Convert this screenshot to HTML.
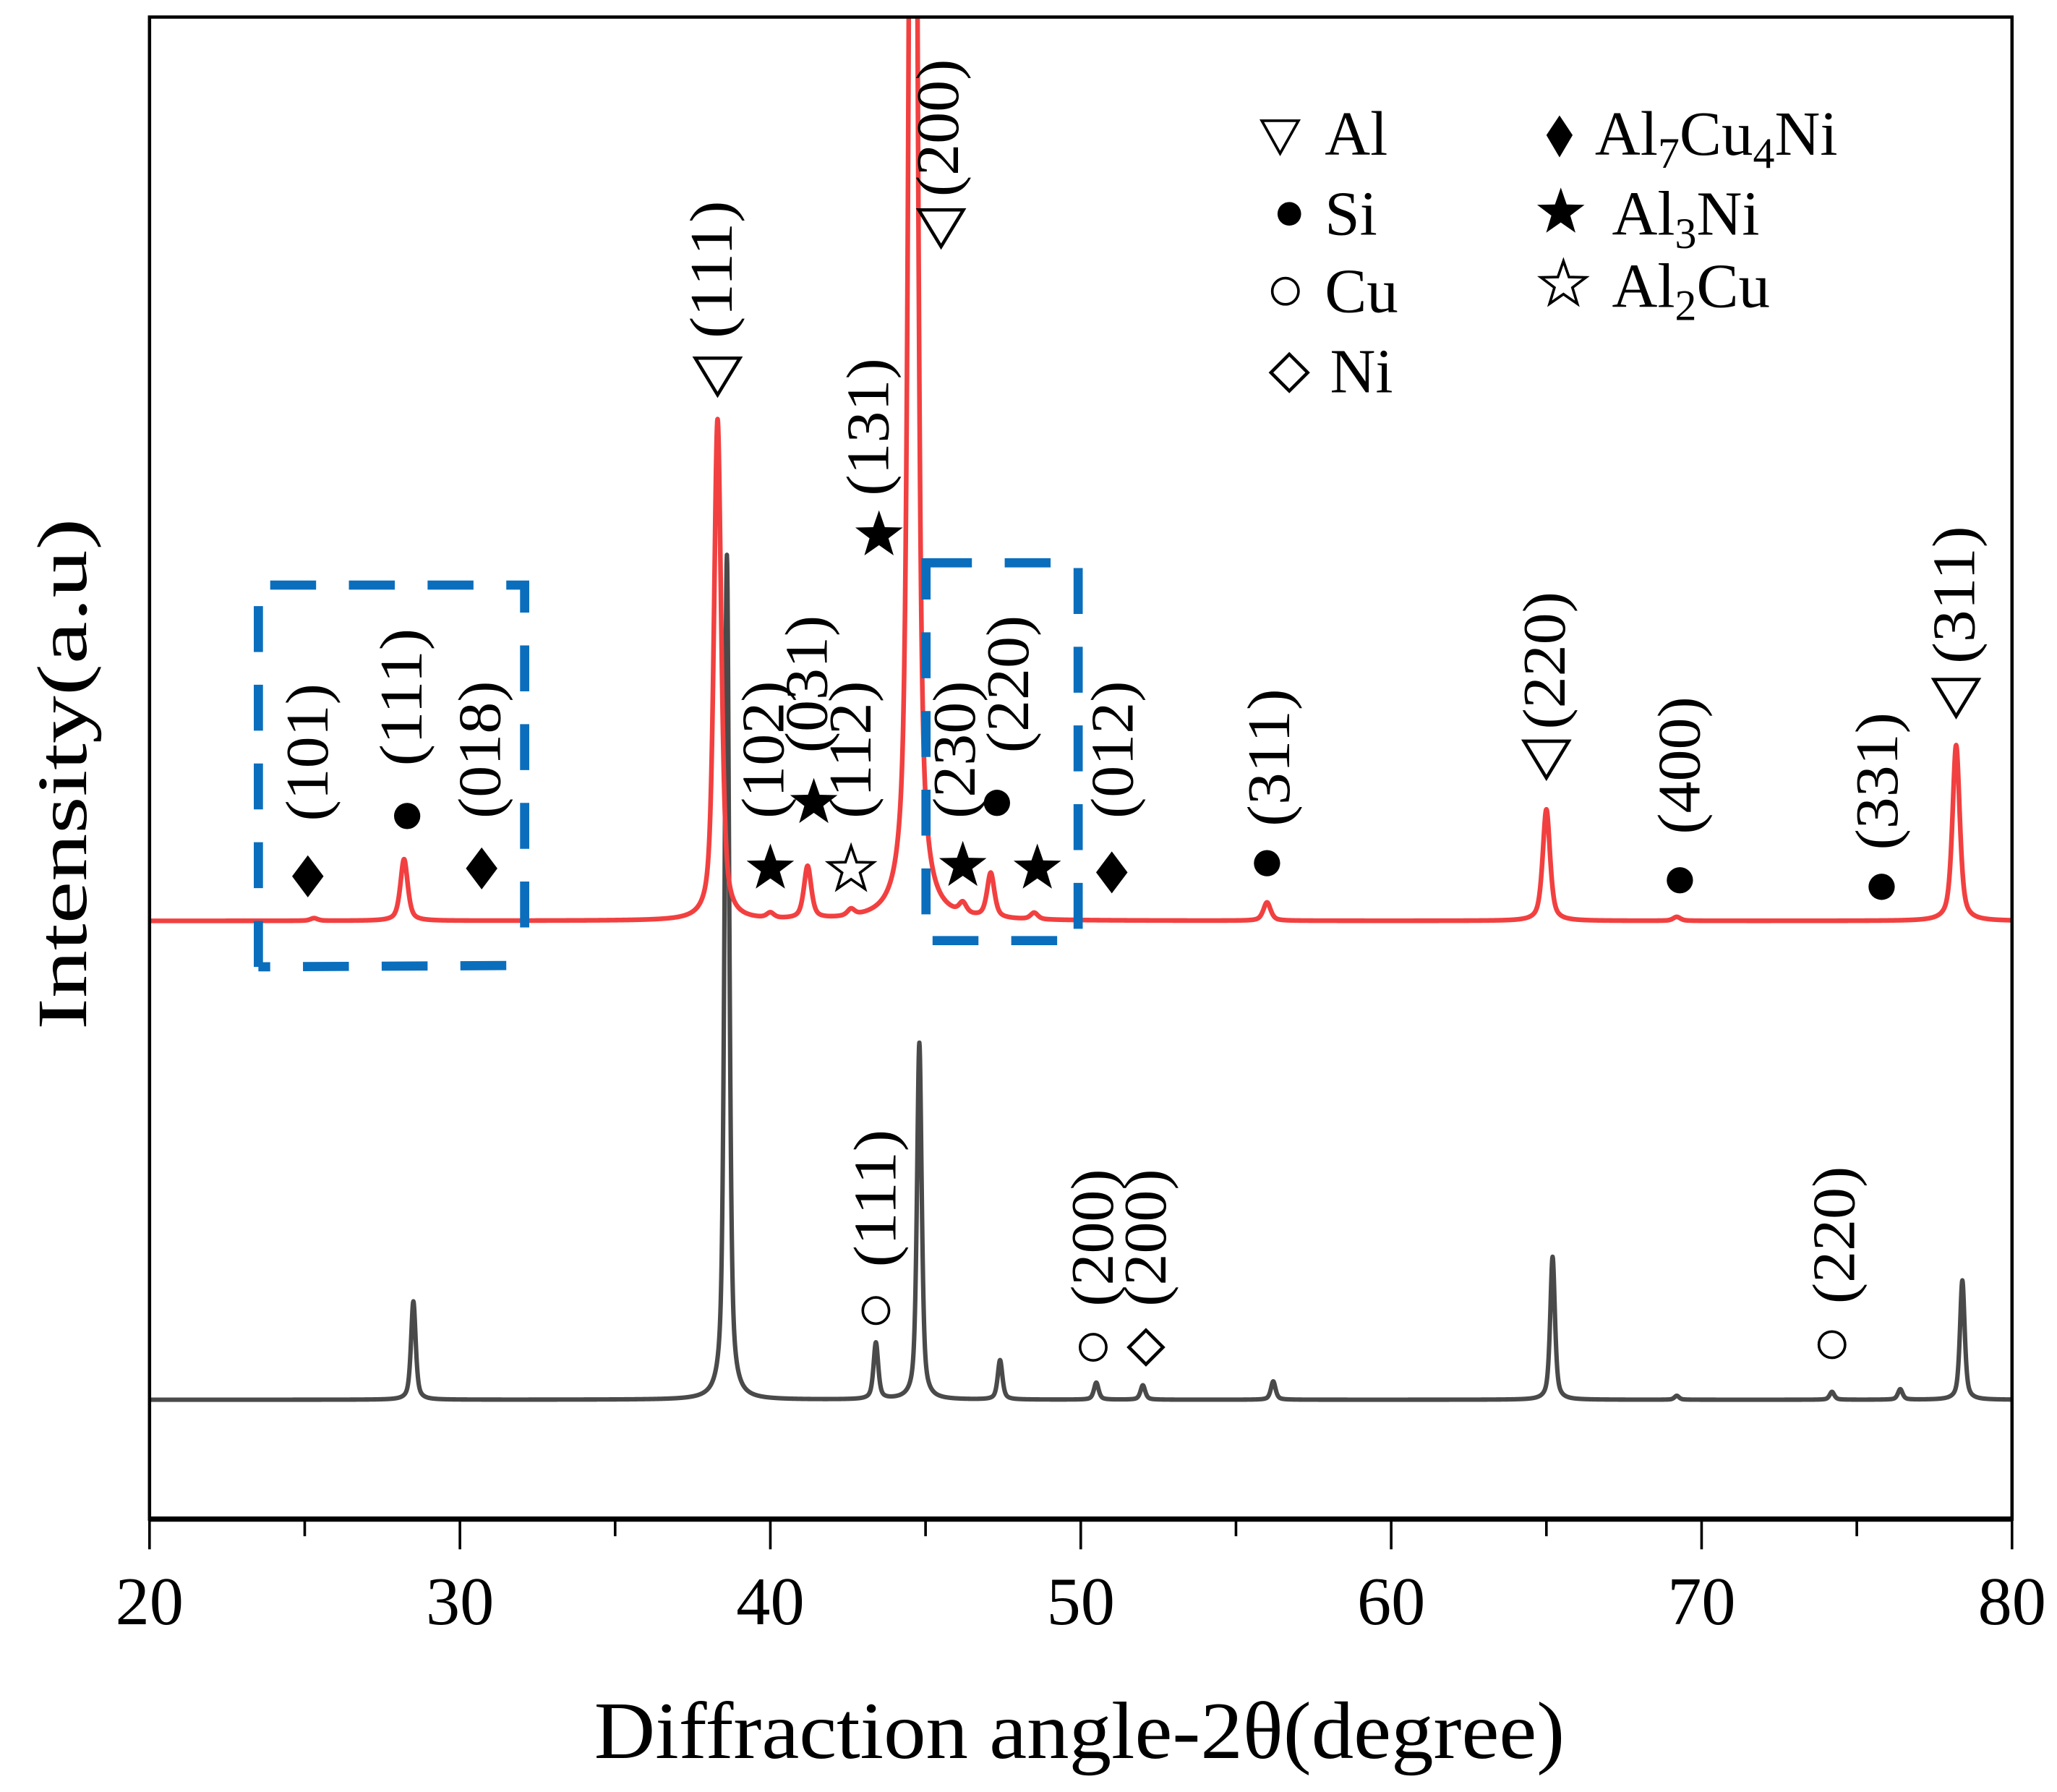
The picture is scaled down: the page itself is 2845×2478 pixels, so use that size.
<!DOCTYPE html>
<html><head><meta charset="utf-8"><style>
html,body{margin:0;padding:0;background:#fff;}
svg{display:block;}
text{font-family:"Liberation Serif",serif;fill:#000;}
</style></head><body>
<svg id="chart" width="2845" height="2478" viewBox="0 0 1568.3 1366" preserveAspectRatio="none" xmlns="http://www.w3.org/2000/svg">
<defs><clipPath id="clip"><rect x="114" y="13" width="1420" height="1145"/></clipPath></defs>
<rect x="0" y="0" width="1568.3" height="1366" fill="#fff"/>
<g id="series" clip-path="url(#clip)"></g>
<rect x="114" y="13" width="1420" height="1145" fill="none" stroke="#000" stroke-width="2.5"/>
<line x1="114" y1="1158" x2="1534" y2="1158" stroke="#000" stroke-width="4"/>
<g id="ticks"></g>
<g id="boxes"></g>
<g id="annots"></g>
<text x="823" y="1340" font-size="62" text-anchor="middle" textLength="740" lengthAdjust="spacingAndGlyphs">Diffraction angle-2θ(degree)</text>
<text transform="translate(48,590) rotate(-90)" font-size="54" text-anchor="middle" dominant-baseline="central" textLength="390" lengthAdjust="spacingAndGlyphs">Intensity(a.u)</text>
<g font-size="48">
 <path d="M962,92 L990,92 L976,117 Z" fill="none" stroke="#000" stroke-width="2"/>
 <text x="1010" y="118">Al</text>
 <circle cx="983" cy="163" r="9" fill="#000"/>
 <text x="1010" y="179">Si</text>
 <circle cx="980" cy="222" r="10" fill="none" stroke="#000" stroke-width="2"/>
 <text x="1010" y="238">Cu</text>
 <path d="M983,270 L997,284 L983,298 L969,284 Z" fill="none" stroke="#000" stroke-width="2.5"/>
 <text x="1014" y="299">Ni</text>
 <path d="M1189,88 L1199,103 L1189,120 L1179,103 Z" fill="#000"/>
 <text x="1216" y="118">Al<tspan font-size="33" dy="10">7</tspan><tspan dy="-10">Cu</tspan><tspan font-size="33" dy="10">4</tspan><tspan dy="-10">Ni</tspan></text>
 <text x="1229" y="179">Al<tspan font-size="33" dy="10">3</tspan><tspan dy="-10">Ni</tspan></text>
 <text x="1229" y="234">Al<tspan font-size="33" dy="10">2</tspan><tspan dy="-10">Cu</tspan></text>
</g>
<g id="legendStars"></g>
</svg>
<script>
// ---- data ----
const redPos = [25.3, 28.2, 38.3, 40.0, 41.2, 42.6, 44.6, 46.2, 47.1, 48.5, 56.0, 65.0, 69.2, 78.2];
const redHeight = [2, 47, 382, 4, 40, 5, 1400, 8, 34, 5, 14, 85, 3, 134];
const grayPos = [28.5, 38.6, 43.4, 44.8, 47.4, 50.5, 52.0, 56.2, 65.2, 69.2, 74.2, 76.4, 78.4];
const grayHeight = [75, 644, 43, 272, 30, 13, 11, 14, 109, 3, 6, 8, 91];
const xTicks = [20, 30, 40, 50, 60, 70, 80];
const xMinor = [25, 35, 45, 55, 65, 75];
const annotAngle = [38.3,45.5,43.5,25.1,28.3,30.7,40.0,41.4,42.6,46.2,47.3,48.6,51.0,56.0,65.0,69.3,75.8,78.2,43.4,50.4,52.1,74.2];
const annotType = ['tri','tri','star','dia','dot','dia','star','star','ostar','star','dot','star','dia','dot','tri','dot','dot','tri','ocirc','ocirc','odia','ocirc'];
const annotLabel = ['(111)','(200)','(131)','(101)','(111)','(018)','(102)','(031)','(112)','(230)','(220)','','(012)','(311)','(220)','(400)','(331)','(311)','(111)','(200)','(200)','(220)'];
const annotMarkY = [288,175,408,668,622,662,662,612,663,660,612,662,665,658,580,671,676,533,999,1027,1027,1025];
const annotLabelBottom = [258,150,378,626,584,624,624,574,624,624,574,0,624,630,556,636,648,506,966,996,996,994];
const annotLabelDx = [-4,-2,-8,0,-4,-1,-5,-5,0,-6,9,0,1,2,-1,0,-3,-1,0,0,0,2];

// ---- axes ----
const X0=114, X1=1534, XMIN=20, XMAX=80;
const xs = v => X0 + (v-XMIN)/(XMAX-XMIN)*(X1-X0);
const redBase = 702, grayBase = 1067;
const NS="http://www.w3.org/2000/svg";
function mk(tag, attrs, parent){const e=document.createElementNS(NS,tag);for(const k in attrs)e.setAttribute(k,attrs[k]);parent.appendChild(e);return e;}

function profile(pos, h, w, x){let s=0;for(let i=0;i<pos.length;i++){const d=(x-pos[i])/w;s+=h[i]*(0.6/(1+d*d)+0.4*Math.exp(-Math.LN2*d*d));}return s;}
function curve(pos,h,w,base){let d='';for(let x=XMIN;x<=XMAX+1e-9;x+=0.01){const y=base-profile(pos,h,w,x);d+=(d?'L':'M')+xs(x).toFixed(2)+','+Math.max(y,-500).toFixed(2);}return d;}
const series=document.getElementById('series');
const g1=mk('path',{d:curve(grayPos,grayHeight,0.09,grayBase),fill:'none',stroke:'#4a4a4a','stroke-width':3.4,'stroke-linejoin':'round'},series);


const r1=mk('path',{d:curve(redPos,redHeight,0.14,redBase),fill:'none',stroke:'#f24040','stroke-width':3.6,'stroke-linejoin':'round'},series);



const tg=document.getElementById('ticks');
xTicks.forEach(v=>{
 const l=mk('line',{x1:xs(v),x2:xs(v),y1:1158,y2:1181,stroke:'#000','stroke-width':2},tg);
 
 
 const t=mk('text',{x:xs(v),y:1238,'font-size':52,'text-anchor':'middle'},tg);t.textContent=v;
 
 
});
xMinor.forEach(v=>{
 const l=mk('line',{x1:xs(v),x2:xs(v),y1:1158,y2:1171,stroke:'#000','stroke-width':2},tg);
 
 
});

const bg=document.getElementById('boxes');
const b1=mk('path',{d:'M197,737 L197,446 L400,446 L400,716 M386,736 L197,737',fill:'none',stroke:'#0a6ebd','stroke-width':7,'stroke-dasharray':'35 25'},bg);


const b2=mk('rect',{x:706,y:429,width:116,height:288,fill:'none',stroke:'#0a6ebd','stroke-width':7,'stroke-dasharray':'35 25'},bg);



function starPath(cx,cy,R){const r=R*0.4;let d='';for(let i=0;i<10;i++){const a=-Math.PI/2+i*Math.PI/5;const rr=i%2?r:R;d+=(i?'L':'M')+(cx+rr*Math.cos(a)).toFixed(2)+','+(cy+rr*Math.sin(a)).toFixed(2);}return d+'Z';}
function marker(type,cx,cy,parent){
 let e;
 if(type==='tri') e=mk('path',{d:`M${cx-17},${cy-15} L${cx+17},${cy-15} L${cx},${cy+13} Z`,fill:'none',stroke:'#000','stroke-width':2.5},parent);
 else if(type==='dot') e=mk('circle',{cx,cy,r:10,fill:'#000'},parent);
 else if(type==='ocirc') e=mk('circle',{cx,cy,r:10,fill:'none',stroke:'#000','stroke-width':2},parent);
 else if(type==='dia') e=mk('path',{d:`M${cx},${cy-16} L${cx+12},${cy} L${cx},${cy+16} L${cx-12},${cy} Z`,fill:'#000'},parent);
 else if(type==='odia') e=mk('path',{d:`M${cx},${cy-13} L${cx+13},${cy} L${cx},${cy+13} L${cx-13},${cy} Z`,fill:'none',stroke:'#000','stroke-width':2.5},parent);
 else if(type==='star') e=mk('path',{d:starPath(cx,cy,19),fill:'#000'},parent);
 else e=mk('path',{d:starPath(cx,cy,18),fill:'none',stroke:'#000','stroke-width':2},parent);
 return e;
}
const ag=document.getElementById('annots');
annotAngle.forEach((a,i)=>{
 const cx=xs(a);
 const m=marker(annotType[i],cx,annotMarkY[i],ag);
 
 
 if(annotLabel[i]){
  const lx=cx+annotLabelDx[i];
  const t=mk('text',{transform:`translate(${lx.toFixed(1)},${annotLabelBottom[i]}) rotate(-90)`,'font-size':46,'dominant-baseline':'central',textLength:105,lengthAdjust:'spacingAndGlyphs'},ag);
  t.textContent=annotLabel[i];
  
  
 }
});
const ls=document.getElementById('legendStars');
const s1=marker('star',1190,162,ls);


const s2=marker('ostar',1192,217,ls);


</script>
</body></html>
